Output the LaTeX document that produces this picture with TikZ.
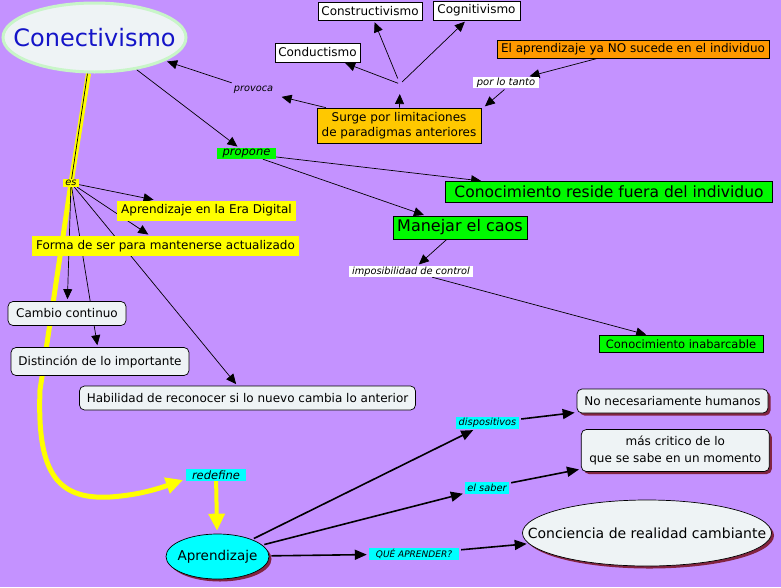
\documentclass[tikz,border=0pt]{standalone}
\usepackage{fontspec}
\setmainfont{DejaVu Sans}
\usetikzlibrary{arrows.meta,shapes.geometric,shadows}
\pgfdeclarelayer{back}
\pgfdeclarelayer{bg}
\pgfsetlayers{back,bg,main}
\definecolor{bgpurple}{RGB}{196,146,255}
\definecolor{ngray}{RGB}{238,243,245}
\definecolor{lgreen}{RGB}{0,250,0}
\definecolor{ccyan}{RGB}{0,255,255}
\definecolor{yel}{RGB}{255,255,0}
\definecolor{orng}{RGB}{255,153,0}
\definecolor{gold}{RGB}{255,200,0}
\definecolor{shred}{RGB}{130,36,64}
\definecolor{conblue}{RGB}{20,20,200}
\definecolor{conborder}{RGB}{200,245,200}
\begin{document}
\begin{tikzpicture}[x=1pt,y=-1pt,
  box/.style={draw=black,line width=0.7pt,inner sep=0pt,align=center,text=black,font=\fontsize{12}{15}\selectfont},
  wbox/.style={box,fill=white},
  rbox/.style={box,rounded corners=5pt,fill=ngray},
  lbl/.style={inner sep=0pt,font=\fontsize{9.8}{11}\selectfont\itshape},
  lblbig/.style={lbl,font=\fontsize{11.5}{13}\selectfont\itshape},
  arr/.style={-{Triangle[length=10pt,width=9pt]},line width=0.7pt,shorten >=2pt},
  arrb/.style={-{Triangle[length=12pt,width=10pt]},line width=1.6pt,shorten >=2pt,shorten <=2pt},
  ylw/.style={draw=yel,line width=5pt,-{Triangle[length=17pt,width=16pt]}},
  shd/.style={drop shadow={shadow xshift=2.5pt,shadow yshift=-2.5pt,fill=shred,opacity=1}}
]
\begin{pgfonlayer}{back}
\fill[bgpurple] (0,0) rectangle (781,587);
\end{pgfonlayer}
\useasboundingbox (0,0) rectangle (781,587);

% nodes
\node[ellipse,draw=conborder,line width=3pt,fill=ngray,minimum width=183pt,minimum height=69pt,inner sep=0pt,
      text=conblue,font=\fontsize{24}{28}\selectfont] (con) at (94.5,37.5) {\makebox[0pt]{Conectivismo}};
\node[wbox,minimum width=104pt,minimum height=18pt] (construct) at (370,11) {Constructivismo};
\node[wbox,minimum width=87pt,minimum height=19pt] (cognit) at (476.5,10.5) {Cognitivismo};
\node[wbox,minimum width=85pt,minimum height=19pt] (conduct) at (317.5,52.5) {Conductismo};
\node[box,fill=orng,minimum width=272pt,minimum height=18pt] (elapr) at (633,49) {El aprendizaje ya NO sucede en el individuo};
\node[lbl,fill=white,minimum width=66pt,minimum height=11pt,font=\fontsize{10}{11}\selectfont\itshape] (porlotanto) at (506,82.5) {por lo tanto};
\node[box,fill=gold,minimum width=164pt,minimum height=35pt] (surge) at (399,125.5) {Surge por limitaciones\\de paradigmas anteriores};
\node[lbl,minimum width=52pt,minimum height=14pt] (provoca) at (253.5,90) {provoca};
\coordinate (J) at (400,84);
\node[lblbig,fill=lgreen,minimum width=59pt,minimum height=11pt] (propone) at (246.5,153.5) {propone};
\node[box,fill=lgreen,minimum width=327pt,minimum height=21pt,font=\fontsize{15.5}{18}\selectfont] (conreside) at (609,192) {Conocimiento reside fuera del individuo};
\node[box,fill=lgreen,minimum width=134pt,minimum height=23pt,font=\fontsize{16}{18}\selectfont] (manejar) at (460,227.5) {Manejar el caos};
\node[lbl,fill=white,minimum width=124pt,minimum height=11pt] (imposib) at (411,271.5) {imposibilidad de control};
\node[box,fill=lgreen,minimum width=164pt,minimum height=17pt,font=\fontsize{11.5}{14}\selectfont] (coninab) at (681,344) {Conocimiento inabarcable};
\node[lbl,fill=yel,minimum width=16pt,minimum height=8pt] (es) at (71,183) {es};
\node[box,draw=none,fill=yel,minimum width=179pt,minimum height=20pt] (apred) at (206.5,210.5) {Aprendizaje en la Era Digital};
\node[box,draw=none,fill=yel,minimum width=267pt,minimum height=20pt] (forma) at (165.5,246) {Forma de ser para mantenerse actualizado};
\node[rbox,minimum width=118pt,minimum height=24pt] (cambio) at (67,313.5) {Cambio continuo};
\node[rbox,minimum width=178pt,minimum height=28pt] (distin) at (100,361.5) {Distinción de lo importante};
\node[rbox,minimum width=336pt,minimum height=24pt] (habil) at (247.5,398) {Habilidad de reconocer si lo nuevo cambia lo anterior};
\node[lblbig,fill=ccyan,minimum width=60pt,minimum height=12pt] (redef) at (216,475) {redefine};
\node[ellipse,shd,draw=black,line width=0.7pt,fill=ccyan,minimum width=103pt,minimum height=45pt,inner sep=0pt,
      font=\fontsize{13.5}{16}\selectfont] (aprend) at (217.5,556.5) {\makebox[0pt]{Aprendizaje}};
\node[lbl,fill=ccyan,minimum width=63pt,minimum height=12pt] (dispos) at (487.5,423) {dispositivos};
\node[lbl,fill=ccyan,minimum width=44pt,minimum height=12pt] (elsaber) at (487,487.5) {el saber};
\node[lbl,fill=ccyan,minimum width=90pt,minimum height=12pt,font=\fontsize{9}{11}\selectfont\itshape] (que) at (414,554) {QUÉ APRENDER?};
\node[rbox,shd,minimum width=191pt,minimum height=24pt] (nonec) at (672.5,401) {No necesariamente humanos};
\node[rbox,shd,minimum width=188pt,minimum height=42pt,font=\fontsize{12}{17}\selectfont] (mascrit) at (675.3,450.5) {más critico de lo\\que se sabe en un momento};
\node[ellipse,shd,draw=black,line width=0.7pt,fill=ngray,minimum width=249pt,minimum height=66pt,inner sep=0pt,
      font=\fontsize{14}{17}\selectfont] (concien) at (647,533) {\makebox[0pt]{Conciencia de realidad cambiante}};

% connectors
\begin{pgfonlayer}{bg}
\draw[ylw] ([xshift=-6pt]con.south) -- (es.center) -- (40,390)
   .. controls (37,470) and (55,500) .. (110,497)
   .. controls (140,495) and (160,488) .. (183,480);
\draw[ylw,line width=4pt,shorten >=3pt] (redef) -- (aprend);
\draw[line width=0.7pt] ([xshift=-7pt]con.south) -- (es);

\draw[arr] (provoca) -- (con);
\draw[arr] (surge) -- (provoca);
\draw[arr,shorten >=10pt] (surge) -- (J);
\draw[arr,shorten <=2pt] (J) -- (conduct);
\draw[arr,shorten <=6pt] (J) -- (construct);
\draw[arr,shorten <=3pt] (J) -- (cognit);
\draw[arr] (elapr) -- (porlotanto);
\draw[arr,shorten <=2pt] (porlotanto.south) -- ([xshift=2pt]surge.north east);
\draw[arr] (con) -- (propone);
\draw[arr] (propone) -- ([xshift=38pt]conreside.north west);
\draw[arr] (propone) -- (manejar);
\draw[arr] (manejar) -- (imposib);
\draw[arr] (imposib) -- (coninab);

\draw[arr] (es) -- (apred);
\draw[arr] (es) -- (forma);
\draw[arr] (es) -- (cambio);
\draw[arr] (es) -- (distin);
\draw[arr] (es) -- (habil);

\draw[arrb] (aprend) -- (dispos);
\draw[arrb] (dispos) -- (nonec);
\draw[arrb] (aprend) -- (elsaber);
\draw[arrb] (elsaber) -- (mascrit);
\draw[arrb] (aprend) -- (que);
\draw[arrb] (que) -- (concien);
\end{pgfonlayer}
\end{tikzpicture}
\end{document}
